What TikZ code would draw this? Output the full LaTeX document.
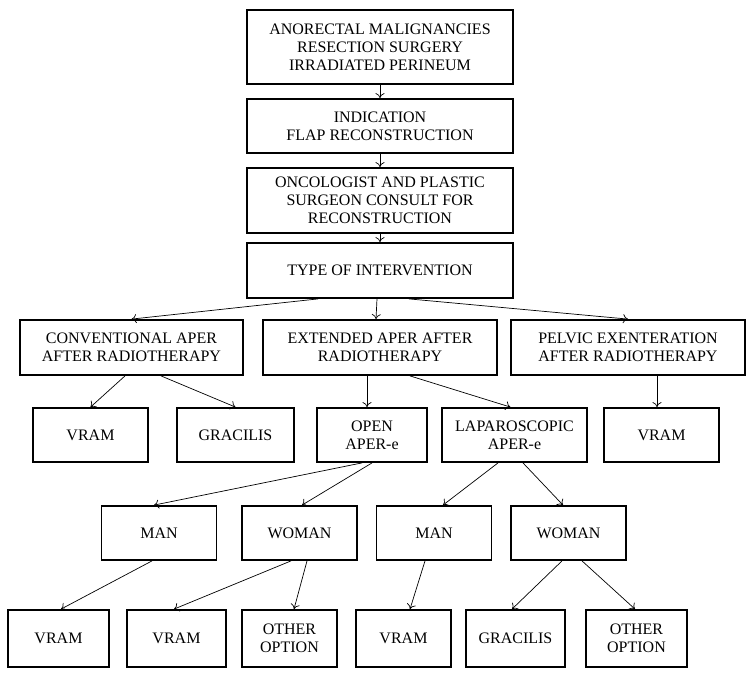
\documentclass[tikz,border=0pt]{standalone}
\usepackage{fontspec}
\setmainfont{Liberation Serif}
\usetikzlibrary{arrows.meta,positioning}
\tikzset{
	box/.style={draw, rectangle, line width=1.8pt, align=center, inner sep=0pt, minimum height=54pt, font=\fontsize{16}{18}\selectfont},
	topbox/.style={box, minimum width=266pt},
	midbox/.style={box, minimum width=234pt},
	smallbox/.style={box, minimum width=115pt},
	endbox/.style={box, minimum width=99pt, minimum height=57pt},
	link/.style={->, line width=0.7pt, >={To[length=5pt, width=9pt]}}
}
\begin{document}
\begin{tikzpicture}[x=1pt, y=-1pt]
		\useasboundingbox (0,0) rectangle (756,675);
		\node (malig) [topbox, minimum height=74pt] at (380,47) {ANORECTAL MALIGNANCIES\\RESECTION SURGERY\\IRRADIATED PERINEUM};
		\node (indic) [below of=malig, topbox, node distance=79pt] {INDICATION\\FLAP RECONSTRUCTION};
		\node (consult) [below of=indic, topbox, minimum height=65pt, node distance=74.5pt] {ONCOLOGIST AND PLASTIC\\SURGEON CONSULT FOR\\RECONSTRUCTION};
		\node (type) [below of=consult, topbox, minimum height=55pt, node distance=70pt] {TYPE OF INTERVENTION};
		
		\node (ext) [below of=type, midbox, minimum height=55pt, node distance=77pt] {EXTENDED APER AFTER\\RADIOTHERAPY};
		\node (conv) [left of=ext, midbox, minimum width=223pt, minimum height=55pt, node distance=248.5pt] {CONVENTIONAL APER\\AFTER RADIOTHERAPY};
		\node (pelvic) [right of=ext, midbox, minimum height=55pt, node distance=248pt] {PELVIC EXENTERATION\\AFTER RADIOTHERAPY};
		
		\node (vramconv) [below of=conv, smallbox, xshift=-41pt, node distance=87.5pt] {VRAM};
		\node (gracconv) [right of=vramconv, smallbox, minimum width=117pt, node distance=145pt] {GRACILIS};
		\node (open) [right of=gracconv, smallbox, minimum width=110pt, node distance=136.5pt] {OPEN\\APER-e};
		\node (lap) [right of=open, smallbox, minimum width=145pt, node distance=142.5pt] {LAPAROSCOPIC\\APER-e};
		\node (vrampelvic) [right of=lap, smallbox, node distance=147pt] {VRAM};
		
		\node (manopen) [below of=vramconv, smallbox, xshift=68.5pt, node distance=98pt] {MAN};
		\node (womanopen) [right of=manopen, smallbox, node distance=140.5pt] {WOMAN};
		\node (manlap) [right of=womanopen, smallbox, node distance=134.5pt] {MAN};
		\node (womanlap) [right of=manlap, smallbox, node distance=134.5pt] {WOMAN};
		
		\node (vrammo) [below of=manopen, endbox, minimum width=101pt, xshift=-100.5pt, node distance=105.5pt] {VRAM};
		\node (vramwo) [right of=vrammo, endbox, node distance=118pt] {VRAM};
		\node (otherwo) [right of=vramwo, endbox, minimum width=95pt, node distance=113pt] {OTHER\\OPTION};
		\node (vramml) [right of=otherwo, endbox, minimum width=95pt, node distance=114pt] {VRAM};
		\node (gracwl) [right of=vramml, endbox, node distance=112pt] {GRACILIS};
		\node (otherwl) [right of=gracwl, endbox, minimum width=101pt, node distance=121pt] {OTHER\\OPTION};
		
		\draw[link] (malig) -- (indic);
		\draw[link] (indic) -- (consult);
		\draw[link] (consult) -- (type);
		
		\draw[link] ([xshift=-62pt]type.south) -- (conv.north);
		\draw[link] ([xshift=-3pt]type.south) -- ([xshift=-4pt]ext.north);
		\draw[link] ([xshift=29pt]type.south) -- (pelvic.north);
		
		\draw[link] ([xshift=-6.5pt]conv.south) -- (vramconv.north);
		\draw[link] ([xshift=29.5pt]conv.south) -- (gracconv.north);
		\draw[link] ([xshift=-13pt]ext.south) -- ([xshift=-5pt]open.north);
		\draw[link] ([xshift=30pt]ext.south) -- ([xshift=-4pt]lap.north);
		\draw[link] ([xshift=29pt]pelvic.south) -- ([xshift=-4.5pt]vrampelvic.north);
		
		\draw[link] ([xshift=-10pt]open.south) -- ([xshift=-5pt]manopen.north);
		\draw[link] (open.south) -- ([xshift=2.5pt]womanopen.north);
		\draw[link] ([xshift=-16.5pt]lap.south) -- ([xshift=9pt]manlap.north);
		\draw[link] ([xshift=8.5pt]lap.south) -- ([xshift=-5.5pt]womanlap.north);
		
		\draw[link] ([xshift=-7pt]manopen.south) -- ([xshift=2.5pt]vrammo.north);
		\draw[link] ([xshift=-8.5pt]womanopen.south) -- ([xshift=-2.5pt]vramwo.north);
		\draw[link] ([xshift=7.5pt]womanopen.south) -- ([xshift=4.5pt]otherwo.north);
		\draw[link] ([xshift=-9pt]manlap.south) -- ([xshift=6.5pt]vramml.north);
		\draw[link] ([xshift=-6.5pt]womanlap.south) -- ([xshift=-3.5pt]gracwl.north);
		\draw[link] ([xshift=13.5pt]womanlap.south) -- ([xshift=-1.5pt]otherwl.north);
	\end{tikzpicture}
\end{document}
